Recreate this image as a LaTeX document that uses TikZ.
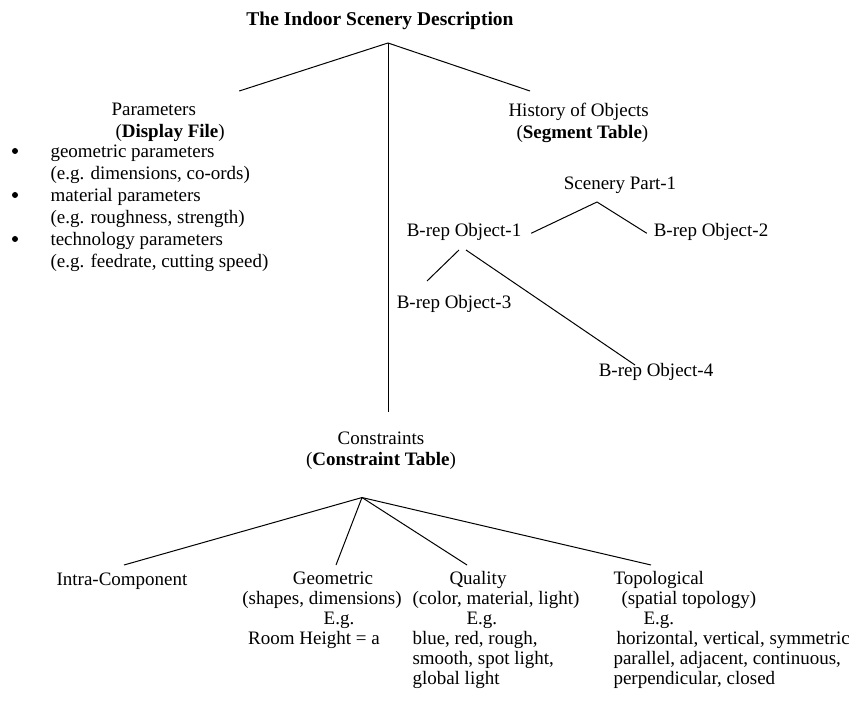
\documentclass[tikz,border=0pt]{standalone}
\usepackage{fontspec}
\setmainfont{Liberation Serif}
\usetikzlibrary{positioning, calc}
\tikzset{main node/.style={inner sep=0pt, font=\fontsize{19}{21.5}\selectfont, execute at begin node=\strut},
  head node/.style={main node, font=\bfseries\fontsize{19.5}{21.5}\selectfont},
  list node/.style={main node, font=\fontsize{19}{22}\selectfont},
  leaf node/.style={main node, font=\fontsize{19}{20}\selectfont},}

\begin{document}
\begin{tikzpicture}[x=1pt, y=-1pt, line width=1pt]
		\useasboundingbox (0,0) rectangle (862,708);
		% Heads
		\node[head node, anchor=north] (title) at (380,10) {The Indoor Scenery Description};
		\coordinate (root) at (388,43);
		\node[main node, anchor=north west, align=left] (param) at (111,103) {Parameters\\\hspace*{4pt}(\textbf{Display File})};
		\node[main node, anchor=north west, align=left] (hist) at (508,103) {History of Objects\\\hspace*{8pt}(\textbf{Segment Table})};
		\node[list node, anchor=north west, align=left] (list) at (50,144) {geometric parameters\\(e.g. dimensions, co-ords)\\material parameters\\(e.g. roughness, strength)\\technology parameters\\(e.g. feedrate, cutting speed)};
		\foreach \y in {151,195,239}
			\fill (15,\y) circle (3pt);
		% Segment table
		\node[main node, anchor=north] (scen) at (620,174) {Scenery Part-1};
		\node[main node, anchor=north] (obj1) at (464,221) {B-rep Object-1};
		\node[main node, anchor=north] (obj2) at (711,221) {B-rep Object-2};
		\node[main node, anchor=north] (obj3) at (454,293) {B-rep Object-3};
		\node[main node, anchor=north] (obj4) at (656,361) {B-rep Object-4};
		\coordinate (sfork) at ([shift={(-23,5.5)}]scen.south);
		% Constraint table
		\node[main node, anchor=north, align=center] (constr) at (381,431) {Constraints\\(\textbf{Constraint Table})};
		\coordinate (cfork) at ([shift={(-19,25)}]constr.south);
		\node[leaf node, anchor=north] (intra) at (122,571) {Intra-Component};
		\node[leaf node, anchor=north, align=center] (geom) at (322,571) {\hspace*{22pt}Geometric\\(shapes, dimensions)\\\hspace*{34pt}E.g.\\Room Height = a\hspace*{16pt}};
		\node[leaf node, anchor=north west, align=left] (qual) at (412,571) {\hspace*{37pt}Quality\\(color, material, light)\\\hspace*{54pt}E.g.\\blue, red, rough,\\smooth, spot light,\\global light};
		\node[leaf node, anchor=north west, align=left] (topo) at (613,571) {Topological\\\hspace*{8pt}(spatial topology)\\\hspace*{30pt}E.g.\\\hspace*{3pt}horizontal, vertical, symmetric\\parallel, adjacent, continuous,\\perpendicular, closed};
		% Paths
		\draw (root) -- ([shift={(14,-12)}]param.north east);
		\draw (root) -- ([shift={(22,-12)}]hist.north west);
		\draw (root) -- ([shift={(7,-19)}]constr.north);
		\draw (sfork) -- ([shift={(9.5,1)}]obj1.east);
		\draw (sfork) -- ([shift={(-6.5,1)}]obj2.west);
		\draw ([shift={(-5,6.5)}]obj1.south) -- ([shift={(-27,-12)}]obj3.north);
		\draw ([shift={(2,6.5)}]obj1.south) -- ([shift={(-21,4)}]obj4.north);
		\draw (cfork) -- ([shift={(2,-6)}]intra.north);
		\draw (cfork) -- ([shift={(14,-6)}]geom.north);
		\draw (cfork) -- ([shift={(55,-6)}]qual.north west);
		\draw (cfork) -- ([shift={(38,-6)}]topo.north west);
	\end{tikzpicture}
\end{document}
